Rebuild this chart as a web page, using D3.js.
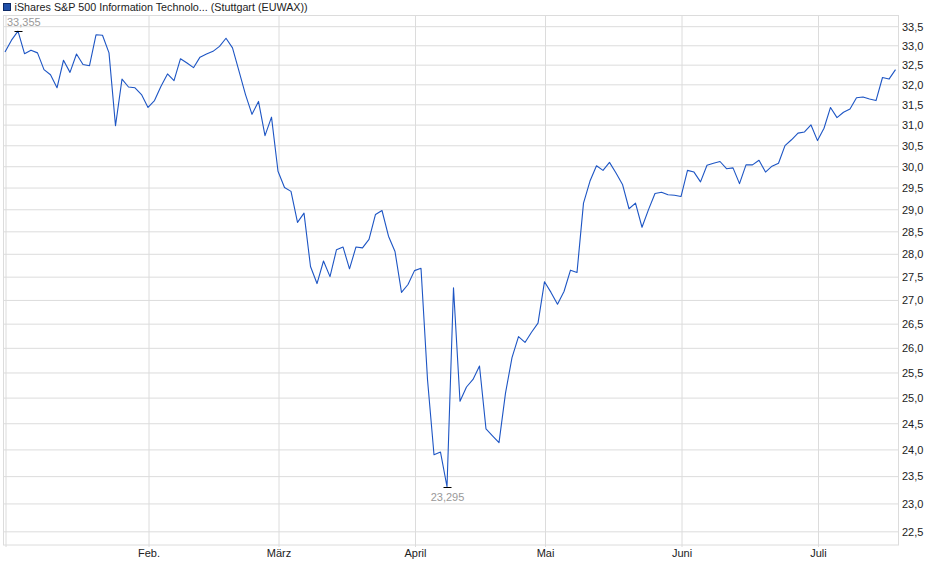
<!DOCTYPE html>
<html>
<head>
<meta charset="utf-8">
<script src="https://cdn.jsdelivr.net/npm/d3@7"></script>
<style>
	body { margin: 0; background: #fff; }
	svg { display: block; font-family: "Liberation Sans", Arial, sans-serif; font-size: 11px; }
</style>
</head>
<body>
<svg></svg>
<script>
// trading-day closing prices (EUR), Jan 2 .. Jul 17
const prices = [
	32.81, 33.12, 33.355, 32.77, 32.86, 32.79, 32.36, 32.23, 31.9, 32.6,
	32.29, 32.76, 32.49, 32.46, 33.26, 33.25, 32.79, 30.96, 32.12, 31.92,
	31.9, 31.73, 31.41, 31.58, 31.94, 32.25, 32.08, 32.64, 32.53, 32.41,
	32.68, 32.76, 32.83, 32.96, 33.17, 32.92, 32.32, 31.73, 31.24, 31.56,
	30.72, 31.17, 29.87, 29.49, 29.4, 28.69, 28.9, 27.71, 27.34, 27.83,
	27.49, 28.08, 28.14, 27.66, 28.14, 28.12, 28.31, 28.87, 28.96, 28.38,
	28.04, 27.15, 27.32, 27.62, 27.67, 25.35, 23.89, 23.94, 23.295, 27.25,
	24.92, 25.2, 25.35, 25.62, 24.38, 24.25, 24.12, 25.08, 25.79, 26.22,
	26.1, 26.31, 26.5, 27.38, 27.15, 26.9, 27.17, 27.63, 27.58, 29.13,
	29.64, 30.0, 29.89, 30.08, 29.83, 29.56, 29.0, 29.13, 28.58, 28.98,
	29.35, 29.38, 29.32, 29.31, 29.28, 29.89, 29.85, 29.62, 30.01, 30.06,
	30.1, 29.93, 29.95, 29.58, 30.02, 30.02, 30.13, 29.85, 29.99, 30.06,
	30.48, 30.62, 30.78, 30.81, 30.98, 30.6, 30.9, 31.41, 31.16, 31.29,
	31.37, 31.65, 31.67, 31.62, 31.58, 32.16, 32.12, 32.36
];

// first trading day of each month (index into prices)
const monthIndex = [0, 22, 42, 63, 83, 104, 125];
const monthLabels = ["", "Feb.", "März", "April", "Mai", "Juni", "Juli"];

const yTicks = [22.5, 23, 23.5, 24, 24.5, 25, 25.5, 26, 26.5, 27, 27.5, 28,
	28.5, 29, 29.5, 30, 30.5, 31, 31.5, 32, 32.5, 33, 33.5];

const title = "iShares S&P 500 Information Technolo... (Stuttgart (EUWAX))";

const W = 940, H = 579;
const plotL = 3, plotR = 898, plotT = 15.5, plotB = 545;

const svg = d3.select("svg").attr("width", W).attr("height", H);

const x = d3.scaleLinear().domain([0, prices.length - 1]).range([5, 895.5]);
const y = d3.scaleLog().domain([22.25, 33.77]).range([plotB, plotT]);

const comma = (v, f) => d3.format(f)(v).replace(".", ",");

// horizontal grid + right labels
const yAxis = d3.axisRight(y)
	.tickValues(yTicks)
	.tickSize(plotR - plotL)
	.tickPadding(4)
	.tickFormat((d) => comma(d, ".1f"));
const gy = svg.append("g")
	.attr("transform", `translate(${plotL},0.5)`)
	.call(yAxis);
gy.select(".domain").remove();
gy.selectAll("line").attr("stroke", "#dcdcdc");
gy.selectAll("text").attr("fill", "#222").attr("font-size", 11).attr("dy", "0.35em");

// vertical grid + month labels
const xAxis = d3.axisBottom(x)
	.tickValues(monthIndex)
	.tickSize(plotB - plotT + 2)
	.tickPadding(2)
	.tickFormat((d, i) => monthLabels[i]);
const gx = svg.append("g")
	.attr("transform", `translate(0.5,${plotT})`)
	.call(xAxis);
gx.select(".domain").remove();
gx.selectAll("line").attr("stroke", "#dcdcdc");
gx.selectAll("text").attr("fill", "#222").attr("font-size", 11);

// plot frame
svg.append("rect")
	.attr("x", plotL + 0.5).attr("y", plotT)
	.attr("width", plotR - plotL).attr("height", plotB - plotT)
	.attr("fill", "none").attr("stroke", "#dcdcdc");

// price line
const line = d3.line()
	.x((_, i) => x(i))
	.y((d) => y(d));

svg.append("path")
	.datum(prices)
	.attr("d", line)
	.attr("fill", "none")
	.attr("stroke", "#1d55c4")
	.attr("stroke-width", 1.1)
	.attr("stroke-linejoin", "round");

// high / low markers
const hiIdx = d3.maxIndex(prices);
const loIdx = d3.minIndex(prices);

function marker(i, up) {
	const px = Math.round(x(i)) + 0.5;
	const py = Math.round(y(prices[i])) + 0.5;
	svg.append("line")
		.attr("x1", px - 4).attr("x2", px + 4)
		.attr("y1", py).attr("y2", py)
		.attr("stroke", "#000");
	const t = svg.append("text")
		.attr("fill", "#999")
		.attr("font-size", 11)
		.attr("text-anchor", "middle")
		.text(comma(prices[i], ".3f"));
	const w = t.node().getComputedTextLength();
	const tx = Math.max(px, plotL + 4 + w / 2);
	t.attr("x", tx).attr("y", up ? py - 6 : py + 13);
}
marker(hiIdx, true);
marker(loIdx, false);

// legend / title
svg.append("rect")
	.attr("x", 3.5).attr("y", 3.5).attr("width", 7).attr("height", 7)
	.attr("fill", "#1f4fa8").attr("stroke", "#0d2a66");
svg.append("text")
	.attr("x", 14.5).attr("y", 11)
	.attr("fill", "#222")
	.attr("font-size", 10.75)
	.text(title);
</script>
</body>
</html>
